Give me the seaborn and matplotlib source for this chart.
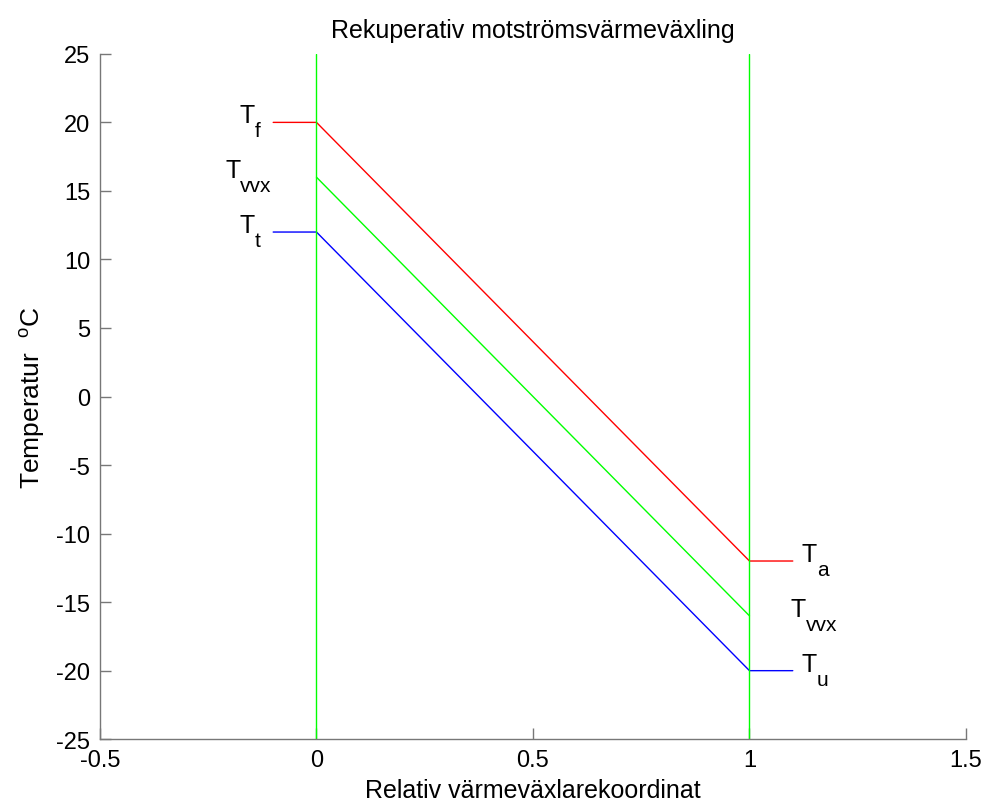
import matplotlib
matplotlib.use('Agg')
import matplotlib.pyplot as plt
import pandas as pd
import seaborn as sns

# Data
x_supply = [-0.1, 0.0, 1.0, 1.1]
t_supply = [20, 20, -12, -12]      # T_f -> T_a (red)
x_wall = [0.0, 1.0]
t_wall = [16, -16]                 # T_vvx (green)
x_exhaust = [-0.1, 0.0, 1.0, 1.1]
t_exhaust = [12, 12, -20, -20]     # T_t -> T_u (blue)
x_edges = [0.0, 1.0]               # heat-exchanger boundaries
y_edges = [-25, 25]

label_subs = ['f', 'vvx', 't', 'a', 'vvx', 'u']
label_x = [-0.178, -0.211, -0.178, 1.12, 1.094, 1.12]
label_y = [20, 16, 12, -12, -16, -20]

sns.set_style('white')
plt.rcParams['font.family'] = ['Liberation Sans', 'DejaVu Sans']
plt.rcParams['mathtext.fontset'] = 'custom'
plt.rcParams['mathtext.rm'] = 'Liberation Sans'
plt.rcParams['mathtext.it'] = 'Liberation Sans'
plt.rcParams['mathtext.default'] = 'regular'
plt.rcParams['axes.unicode_minus'] = False
plt.rcParams['text.color'] = 'black'
plt.rcParams['axes.labelcolor'] = 'black'
plt.rcParams['xtick.color'] = 'black'
plt.rcParams['ytick.color'] = 'black'

fig = plt.figure(figsize=(9.87, 8.03), dpi=100)
ax = fig.add_axes([0.1013, 0.0782, 0.8774, 0.8535])

df_s = pd.DataFrame({'x': x_supply, 'y': t_supply})
df_w = pd.DataFrame({'x': x_wall, 'y': t_wall})
df_e = pd.DataFrame({'x': x_exhaust, 'y': t_exhaust})

sns.lineplot(data=df_s, x='x', y='y', color='#ff0000', lw=1, sort=False, estimator=None, ax=ax)
sns.lineplot(data=df_w, x='x', y='y', color='#00ff00', lw=1, sort=False, estimator=None, ax=ax)
sns.lineplot(data=df_e, x='x', y='y', color='#0000ff', lw=1, sort=False, estimator=None, ax=ax)
for xe in x_edges:
    sns.lineplot(x=[xe, xe], y=y_edges, color='#00ff00', lw=1, sort=False, estimator=None, ax=ax)

# "T" with a large, deep subscript (MATLAB style)
for sub, xx, yy in zip(label_subs, label_x, label_y):
    ax.text(xx, yy, 'T', fontsize=18, va='baseline', ha='left')
    ax.annotate(sub, xy=(xx, yy), xytext=(11, -10), textcoords='offset points',
                fontsize=15, va='baseline', ha='left')

ax.set_xlim(-0.5, 1.5)
ax.set_ylim(-25, 25)
ax.set_xticks([-0.5, 0, 0.5, 1, 1.5])
ax.set_xticklabels(['-0.5', '0', '0.5', '1', '1.5'])
ax.set_yticks(range(-25, 30, 5))

for side in ['top', 'right']:
    ax.spines[side].set_visible(False)
for side in ['left', 'bottom']:
    ax.spines[side].set_color('#777777')
    ax.spines[side].set_linewidth(1)
ax.tick_params(direction='in', length=8, width=1, color='#777777', labelsize=17,
               left=True, bottom=True, pad=7)

ax.set_title('Rekuperativ motströmsvärmeväxling', fontsize=18, pad=12)
ax.set_xlabel('Relativ värmeväxlarekoordinat', fontsize=18, labelpad=5)
ax.set_ylabel('Temperatur  $^o$C', fontsize=19, labelpad=7)

fig.savefig('out.png', dpi=100)
